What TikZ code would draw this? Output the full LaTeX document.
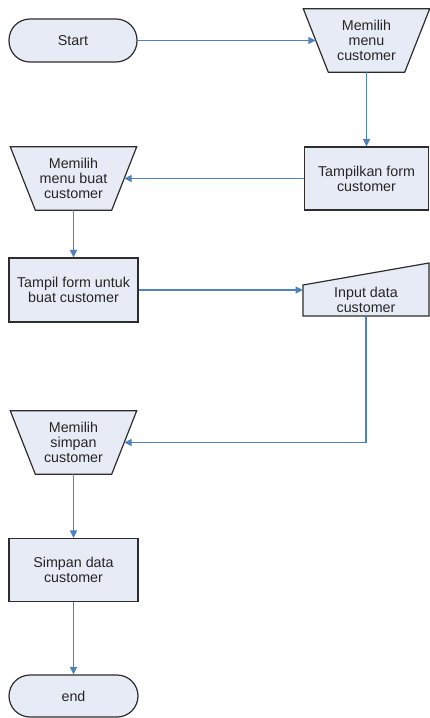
\documentclass[tikz,border=0pt]{standalone}
\usepackage{fontspec}
\setmainfont{Liberation Sans}
\usetikzlibrary{arrows.meta,calc,backgrounds}
\definecolor{shapefill}{RGB}{231,235,245}
\definecolor{flowblue}{RGB}{79,129,189}
\definecolor{edgegray}{RGB}{45,45,45}

% manual-operation outline (wide top, narrow bottom) behind a named node
\newcommand\drawmanualop[1]{%
  \begin{pgfonlayer}{background}
    \draw[outline] (#1.north west) -- (#1.north east)
      -- ([xshift=-25pt]#1.south east) -- ([xshift=25pt]#1.south west) -- cycle;
  \end{pgfonlayer}}

\begin{document}
\begin{tikzpicture}[x=1pt,y=-1pt,
  outline/.style={draw=edgegray, line width=1.2pt, fill=shapefill},
  boxtext/.style={align=center, inner sep=0pt, text=black!85,
    font=\fontsize{14.3}{15.2}\selectfont},
  base/.style={outline, boxtext},
  terminal/.style={base, shape=rectangle, rounded corners=21pt,
    minimum width=128pt, minimum height=43pt},
  process/.style={base, shape=rectangle, minimum width=124pt, minimum height=63pt},
  manualop/.style={boxtext, shape=rectangle, minimum width=126pt, minimum height=63pt},
  flow/.style={draw=flowblue, line width=1.4pt,
    -{Triangle[length=7.5pt,width=7pt]}}
]
\useasboundingbox (0,0) rectangle (430,718);
\clip (0,0) rectangle (430,718);

% flowchart shapes
\node[terminal] (start) at (73,40.5) {Start};
\node[manualop] (mm1) at (366.5,40.5) {Memilih\\menu\\customer};
\drawmanualop{mm1}
\node[process] (tfc) at (366.5,178.5) {Tampilkan form\\customer};
\node[manualop] (mm2) at (73.5,178.5) {Memilih\\menu buat\\customer};
\drawmanualop{mm2}
\node[process, minimum width=129pt, minimum height=64pt] (tf) at (73.5,290) {Tampil form untuk\\buat customer};

% manual input shape
\coordinate (inSW) at (303,316);
\coordinate (inSE) at (429,316);
\coordinate (inNE) at (429,263);
\coordinate (inNW) at (303,285);
\draw[outline] (inSW) -- (inSE) -- (inNE) -- (inNW) -- cycle;
\node[boxtext] (inp) at (366,300) {Input data\\customer};

\node[manualop] (ms) at (73.5,442.5) {Memilih\\simpan\\customer};
\drawmanualop{ms}
\node[process, minimum width=129pt] (sd) at (73.5,570) {Simpan data\\customer};
\node[terminal, minimum width=129pt, minimum height=42pt] (finish) at (73.5,696) {end};

% connectors
\draw[flow] (start) -- ([xshift=12.5pt]mm1.west);
\draw[flow] (mm1) -- (tfc);
\draw[flow] (tfc) -- ([xshift=-12.5pt]mm2.east);
\draw[flow] (mm2) -- (tf);
\draw[flow] (tf.east) -- (tf.east -| inSW);
\draw[flow] ($(inSW)!0.5!(inSE)$) |- ([xshift=-12.5pt]ms.east);
\draw[flow] (ms) -- (sd);
\draw[flow] (sd) -- (finish);
\end{tikzpicture}
\end{document}
